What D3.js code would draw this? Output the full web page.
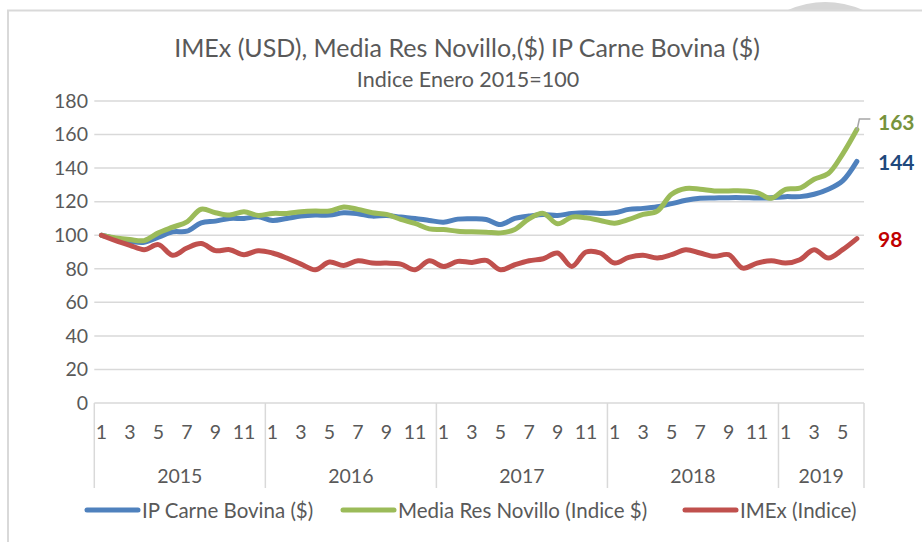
<!DOCTYPE html>
<html lang="es">
<head>
<meta charset="UTF-8">
<title>IMEx, Media Res Novillo, IP Carne Bovina</title>
<script src="https://d3js.org/d3.v7.min.js"></script>
<style>
  html, body { margin: 0; padding: 0; background: #fff; }
  svg { display: block; font-family: Lato, "Noto Sans", sans-serif; }
</style>
</head>
<body>
<svg id="chart" width="922" height="542"></svg>
<script>
// months 1..12 per year, Jan 2015 - Jun 2019
const years = [2015, 2016, 2017, 2018, 2019];
const monthsPerYear = [12, 12, 12, 12, 6];
const yTicks = [0, 20, 40, 60, 80, 100, 120, 140, 160, 180];

const ipCarne = [100, 98, 96.4, 95.8, 98.8, 102, 102.4, 107.4, 108.4, 110, 110, 111,
  108.8, 110, 111.4, 112, 112, 113.4, 112.8, 111.4, 111.8, 110.8, 110, 108.8,
  107.8, 109.6, 109.8, 109.4, 106.4, 110, 111.4, 112.4, 111.8, 113, 113.4, 113,
  113.4, 115.4, 116, 117, 118.8, 120.8, 122, 122.2, 122.4, 122.4, 122.2, 122.4,
  123, 123, 124.4, 127.4, 132.4, 144];
const mediaRes = [100, 98.4, 97.4, 96.8, 101.4, 104.8, 108, 115.5, 113.4, 112, 114, 111.8,
  113, 113, 114, 114.4, 114.4, 116.8, 115.4, 113.4, 112.4, 109.4, 107, 103.8,
  103.4, 102.4, 102, 101.8, 101.4, 103.4, 109.8, 113, 106.8, 110.8, 110.4, 108.8,
  107.2, 109.4, 112.4, 114.4, 124.4, 127.8, 127.4, 126.4, 126.4, 126.4, 125.4, 122,
  127.4, 128, 133.4, 136.8, 148.4, 163];
const imex = [100, 96.8, 94, 91.4, 94.4, 88, 92.4, 95, 90.8, 91.4, 88.4, 90.8,
  89.4, 86.4, 82.8, 79.4, 84, 82, 84.8, 83.4, 83.4, 82.8, 79.4, 84.8,
  81.4, 84.4, 83.8, 85, 79.4, 82.4, 84.8, 86, 89.4, 81.4, 90, 89.4,
  83.4, 86.8, 88, 86.4, 88.4, 91.4, 89.4, 87.4, 88.4, 80.4, 83.4, 84.8,
  83.4, 85.4, 91.4, 86.4, 91.4, 98];

const seriesNames = ["IP Carne Bovina ($)", "Media Res Novillo (Indice $)", "IMEx (Indice)"];
const endLabels = ["144", "163", "98"];

const series = [
  { name: seriesNames[0], values: ipCarne, color: "#4f81bd", label: endLabels[0], labelColor: "#1f497d" },
  { name: seriesNames[1], values: mediaRes, color: "#9bbb59", label: endLabels[1], labelColor: "#77933c" },
  { name: seriesNames[2], values: imex, color: "#c0504d", label: endLabels[2], labelColor: "#c00000" }
];

// build month categories
const cats = [];
years.forEach((yr, k) => {
  for (let m = 1; m <= monthsPerYear[k]; m++) cats.push({ year: yr, month: m, key: yr + "-" + m });
});

const svg = d3.select("#chart");
const gray = "#595959";
const plotLeft = 94.3, plotRight = 864, plotTop = 101, plotBottom = 403;
const tickFont = 19.5;

const x = d3.scaleBand().domain(cats.map(d => d.key)).range([plotLeft, plotRight]);
const y = d3.scaleLinear().domain([0, 180]).range([plotBottom, plotTop]);
const cx = i => x(cats[i].key) + x.bandwidth() / 2;

// frame + decoration at the top
svg.append("path")
  .attr("d", "M788,10 Q825,-6 863,10 Z")
  .attr("fill", "#d6d6d6");
svg.append("path")
  .attr("d", "M8,542 L8,10.5 L922,10.5")
  .attr("fill", "none").attr("stroke", "#d9d9d9").attr("stroke-width", 2);

// titles
svg.append("text").attr("x", 467).attr("y", 47).attr("text-anchor", "middle")
  .attr("dominant-baseline", "central").attr("fill", gray).attr("font-size", 25)
  .text("IMEx (USD), Media Res Novillo,($) IP Carne Bovina ($)");
svg.append("text").attr("x", 468).attr("y", 79).attr("text-anchor", "middle")
  .attr("dominant-baseline", "central").attr("fill", gray).attr("font-size", 21.5)
  .text("Indice Enero 2015=100");

// gridlines
svg.append("g").selectAll("line").data(yTicks.filter(t => t > 0)).join("line")
  .attr("x1", plotLeft).attr("x2", plotRight)
  .attr("y1", d => y(d)).attr("y2", d => y(d))
  .attr("stroke", "#d9d9d9").attr("stroke-width", 1.5);

// y axis labels
const yAxis = d3.axisLeft(y).tickValues(yTicks).tickSize(0).tickPadding(0);
svg.append("g").attr("transform", "translate(88,0)").call(yAxis)
  .call(g => g.select(".domain").remove())
  .call(g => g.selectAll("text").attr("fill", gray).attr("font-size", tickFont)
    .attr("font-family", "Lato, 'Noto Sans', sans-serif"));

// x axis: month row + year row
svg.append("line").attr("x1", plotLeft).attr("x2", plotRight).attr("y1", plotBottom).attr("y2", plotBottom)
  .attr("stroke", "#d9d9d9").attr("stroke-width", 1.5);

const xAxis = d3.axisBottom(x).tickSize(0).tickPadding(0)
  .tickValues(cats.filter(d => d.month % 2 === 1).map(d => d.key))
  .tickFormat(k => k.split("-")[1]);
svg.append("g").attr("transform", "translate(0,425)").call(xAxis)
  .call(g => g.select(".domain").remove())
  .call(g => g.selectAll("text").attr("fill", gray).attr("font-size", tickFont)
    .attr("font-family", "Lato, 'Noto Sans', sans-serif"));

const yearGroups = [];
let start = 0;
years.forEach((yr, k) => {
  yearGroups.push({ year: yr, first: cats[start].key, last: cats[start + monthsPerYear[k] - 1].key });
  start += monthsPerYear[k];
});
const bounds = [plotLeft].concat(yearGroups.map(g => x(g.last) + x.bandwidth()));
svg.append("g").selectAll("line").data(bounds).join("line")
  .attr("x1", d => d).attr("x2", d => d).attr("y1", plotBottom).attr("y2", 488)
  .attr("stroke", "#d9d9d9").attr("stroke-width", 1.5);
svg.append("g").selectAll("text").data(yearGroups).join("text")
  .attr("x", g => (x(g.first) + x(g.last) + x.bandwidth()) / 2)
  .attr("y", 475).attr("text-anchor", "middle").attr("dominant-baseline", "central")
  .attr("fill", gray).attr("font-size", tickFont).text(g => g.year);

// lines
const line = d3.line().x((d, i) => cx(i)).y(d => y(d)).curve(d3.curveCatmullRom.alpha(0.5));
svg.append("g").selectAll("path").data(series).join("path")
  .attr("d", s => line(s.values))
  .attr("fill", "none").attr("stroke", s => s.color).attr("stroke-width", 5)
  .attr("stroke-linejoin", "round").attr("stroke-linecap", "round");

// end labels
const last = cats.length - 1;
const labelY = { "144": y(ipCarne[last]), "163": y(mediaRes[last]) - 8.5, "98": y(imex[last]) };
svg.append("path")
  .attr("d", `M${cx(last)},${y(mediaRes[last]) + 1} L${cx(last) + 2.5},${labelY["163"] - 2} L${cx(last) + 13.5},${labelY["163"] - 2}`)
  .attr("fill", "none").attr("stroke", "#a6a6a6").attr("stroke-width", 1.5);
svg.append("g").selectAll("text").data(series).join("text")
  .attr("x", 878).attr("y", s => labelY[s.label]).attr("dominant-baseline", "central")
  .attr("fill", s => s.labelColor).attr("font-weight", "bold").attr("font-size", 21)
  .text(s => s.label);

// legend
const legendX = [87, 343, 685];
const legend = svg.append("g").selectAll("g").data(series).join("g")
  .attr("transform", (s, i) => `translate(${legendX[i]},510)`);
legend.append("line").attr("x1", 0).attr("x2", 51).attr("y1", 0).attr("y2", 0)
  .attr("stroke", s => s.color).attr("stroke-width", 5).attr("stroke-linecap", "round");
legend.append("text").attr("x", 55).attr("y", 0).attr("dominant-baseline", "central")
  .attr("fill", gray).attr("font-size", 20.5).text(s => s.name);
</script>
</body>
</html>
